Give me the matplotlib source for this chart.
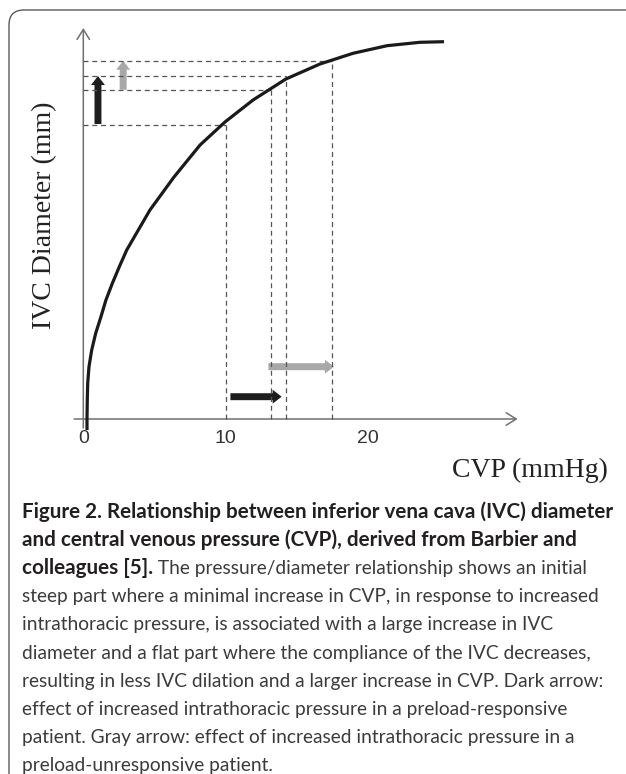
import matplotlib
matplotlib.use("Agg")
import matplotlib.pyplot as plt
from matplotlib.patches import FancyArrowPatch, FancyBboxPatch

# ---------------- data ----------------
cvp_curve = [0.26, 0.26, 0.28, 0.31, 0.40, 0.59, 0.87, 1.24, 1.59, 2.04, 2.53, 3.05,
             4.68, 6.37, 8.2, 9.95, 11.92, 14.23, 16.62, 18.94, 21.33, 23.64, 25.33]
diam_curve = [-1.1, 0.0, 1.9, 3.6, 5.23, 6.9, 8.57, 10.23, 11.9, 13.57, 15.23, 16.9,
              20.9, 24.2, 27.4, 29.7, 31.9, 34.0, 35.5, 36.57, 37.33, 37.67, 37.73]

# reference points (CVP, diameter) marked by dashed guide lines
guide_cvp = [10.0, 13.15, 14.21, 17.49]
guide_diam = [29.4, 32.93, 34.27, 35.83]

# arrows: (x0, y0, x1, y1) in data units
dark_up = (1.03, 29.5, 1.03, 34.3)
gray_up = (2.8, 32.93, 2.8, 35.83)
dark_right = (10.33, 2.23, 13.93, 2.23)
gray_right = (13.0, 5.23, 17.6, 5.23)

x_ticks = [0, 10, 20]
x_tick_labels = ["0", "10", "20"]
x_label = "CVP (mmHg)"
y_label = "IVC Diameter (mm)"

caption_bold_1 = "Figure 2. Relationship between inferior vena cava (IVC) diameter"
caption_bold_2 = "and central venous pressure (CVP), derived from Barbier and"
caption_bold_3 = "colleagues [5]."
caption_reg_3 = " The pressure/diameter relationship shows an initial"
caption_rest = [
    "steep part where a minimal increase in CVP, in response to increased",
    "intrathoracic pressure, is associated with a large increase in IVC",
    "diameter and a flat part where the compliance of the IVC decreases,",
    "resulting in less IVC dilation and a larger increase in CVP. Dark arrow:",
    "effect of increased intrathoracic pressure in a preload-responsive",
    "patient. Gray arrow: effect of increased intrathoracic pressure in a",
    "preload-unresponsive patient.",
]

# ---------------- figure ----------------
W, H = 626, 774
DPI = 100
fig = plt.figure(figsize=(W / DPI, H / DPI), dpi=DPI)
fig.patch.set_facecolor("white")

# frame (rounded box, open to the right and bottom)
frame = FancyBboxPatch((0.09, -0.3), 6.6, 7.64 + 0.3, boxstyle="round,pad=0,rounding_size=0.15",
                       transform=fig.dpi_scale_trans, facecolor="none",
                       edgecolor="#5a5a5a", linewidth=1.0)
fig.patches.append(frame)

# axes placement in pixels: cvp 0 -> x 83.3, 14.24 px per unit; diam 0 -> y 419, 10 px per unit
x0px, sx = 83.3, 14.24
y0px, sy = 419.0, 10.0
xlim = (-1.0, 31.0)
ylim = (-1.2, 40.0)
left = (x0px + xlim[0] * sx) / W
right = (x0px + xlim[1] * sx) / W
bottom = 1 - (y0px - ylim[0] * sy) / H
top = 1 - (y0px - ylim[1] * sy) / H
ax = fig.add_axes([left, bottom, right - left, top - bottom])
ax.set_xlim(*xlim)
ax.set_ylim(*ylim)
ax.axis("off")

axis_col = "#707070"
# axes with open arrowheads
ax.add_patch(FancyArrowPatch((-0.65, 0), (30.5, 0), arrowstyle="->,head_length=0.4,head_width=0.25",
                             mutation_scale=18, color=axis_col, lw=1.1, shrinkA=0, shrinkB=0))
ax.add_patch(FancyArrowPatch((0, -0.9), (0, 39.1), arrowstyle="->,head_length=0.4,head_width=0.25",
                             mutation_scale=18, color=axis_col, lw=1.1, shrinkA=0, shrinkB=0))

# dashed guide lines
dash_kw = dict(color="#555555", lw=0.9, linestyle=(0, (4, 3)))
for gx, gy in zip(guide_cvp, guide_diam):
    ax.plot([0, gx], [gy, gy], **dash_kw)
    ax.plot([gx, gx], [0, gy], **dash_kw)

# curve
ax.plot(cvp_curve, diam_curve, color="#1a1a1a", lw=2.3, solid_capstyle="butt",
        solid_joinstyle="round")

# block arrows
style = "simple,tail_width=5,head_width=10,head_length=6.5"
for (a, col) in [(dark_up, "#1e1e1e"), (gray_up, "#a8a8a8"),
                 (dark_right, "#1e1e1e"), (gray_right, "#a8a8a8")]:
    ax.add_patch(FancyArrowPatch((a[0], a[1]), (a[2], a[3]), arrowstyle=style,
                                 mutation_scale=1, color=col, lw=0, shrinkA=0, shrinkB=0))

# tick labels
for t, lab in zip(x_ticks, x_tick_labels):
    ax.text(t, -2.0, lab, ha="center", va="center", fontsize=14,
            family="Liberation Sans", color="#333333", clip_on=False)

# axis titles
fig.text(529.5 / W, 1 - 470 / H, x_label, ha="center", va="center", fontsize=20,
         family="Liberation Serif", color="#222222")
fig.text(45 / W, 1 - 215 / H, y_label, ha="center", va="center", fontsize=20,
         rotation=90, family="Liberation Serif", color="#222222")

# caption
cap_font = "Lato"
bold_size = 14.85
reg_size = 13.75
xl = 22 / W
base0 = 518
step = 28.1
bold_col = "#231f20"
reg_col = "#3b3b3b"
def ypos(i):
    return 1 - (base0 + step * i) / H

fig.text(xl, ypos(0), caption_bold_1, fontsize=bold_size, family=cap_font, weight="bold",
         color=bold_col, va="baseline")
fig.text(xl, ypos(1), caption_bold_2, fontsize=bold_size, family=cap_font, weight="bold",
         color=bold_col, va="baseline")
tb = fig.text(xl, ypos(2), caption_bold_3, fontsize=bold_size, family=cap_font, weight="bold",
              color=bold_col, va="baseline")
renderer = fig.canvas.get_renderer()
bb = tb.get_window_extent(renderer)
fig.text(bb.x1 / W, ypos(2), caption_reg_3, fontsize=reg_size, family=cap_font,
         color=reg_col, va="baseline")
for i, line in enumerate(caption_rest):
    fig.text(xl, ypos(3 + i), line, fontsize=reg_size, family=cap_font,
             color=reg_col, va="baseline")

fig.savefig("out.png", dpi=DPI, facecolor="white")
